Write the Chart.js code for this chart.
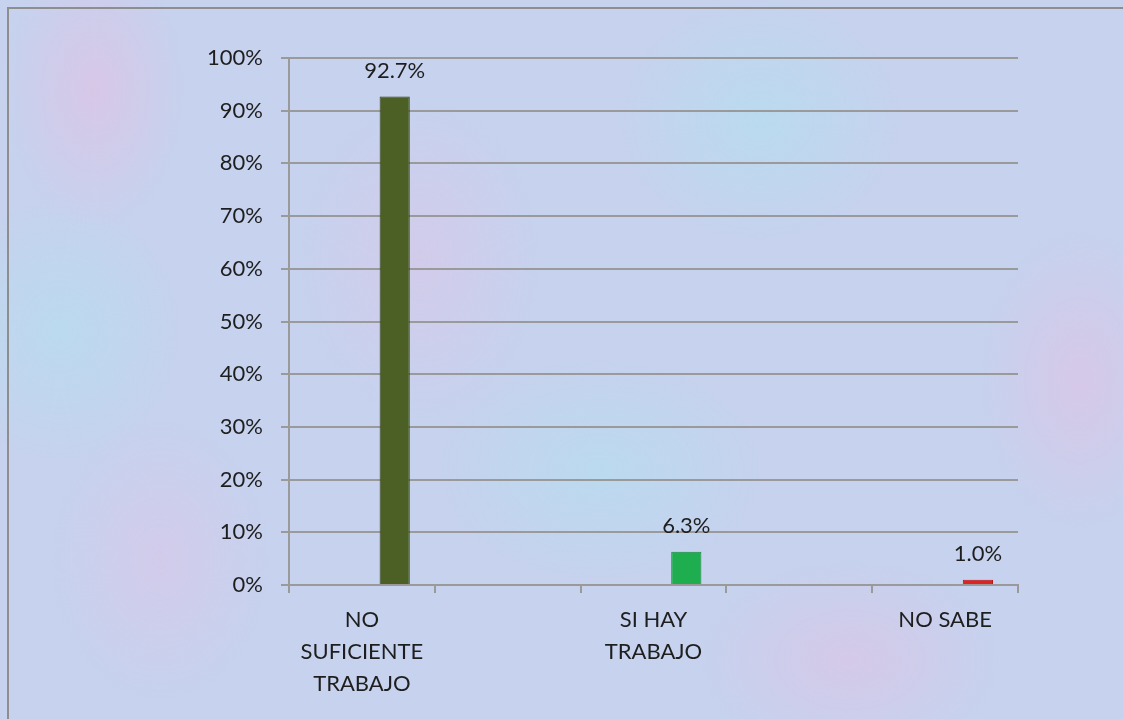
<!DOCTYPE html>
<html>
<head>
<meta charset="utf-8">
<script src="https://cdn.jsdelivr.net/npm/chart.js@4"></script>
<style>
  html, body { margin: 0; padding: 0; overflow: hidden; }
  body {
    width: 1123px; height: 719px;
    background-color: #c6d2ee;
    background-image:
      radial-gradient(ellipse 90px 140px at 95px 90px, rgba(230,190,225,0.55), transparent),
      radial-gradient(ellipse 120px 160px at 420px 260px, rgba(225,195,230,0.45), transparent),
      radial-gradient(ellipse 140px 120px at 760px 120px, rgba(175,225,240,0.55), transparent),
      radial-gradient(ellipse 100px 150px at 1080px 380px, rgba(230,190,225,0.5), transparent),
      radial-gradient(ellipse 160px 110px at 600px 470px, rgba(175,225,240,0.5), transparent),
      radial-gradient(ellipse 110px 140px at 160px 560px, rgba(225,195,230,0.45), transparent),
      radial-gradient(ellipse 150px 100px at 850px 660px, rgba(230,190,225,0.45), transparent),
      radial-gradient(ellipse 120px 130px at 60px 330px, rgba(175,225,240,0.5), transparent);
  }
  #frame {
    position: absolute; left: 7px; top: 7px; width: 1130px; height: 730px;
    border-left: 2px solid #8e8e8e; border-top: 2px solid #8e8e8e;
  }
  #wrap { position: absolute; left: 0; top: 0; width: 1123px; height: 719px; }
</style>
</head>
<body>
<div id="frame"></div>
<div id="wrap"><canvas id="chart"></canvas></div>
<script>
// categories (blank slots between them, as in the source sheet)
const categories = [['NO', 'SUFICIENTE', 'TRABAJO'], '', ['SI HAY', 'TRABAJO'], '', 'NO SABE'];
const percentValues = [92.7, null, 6.3, null, 1.0];
const emptySeries = [null, null, null, null, null];
const barColors = ['#4c6026', null, '#1fae4f', null, '#e02222'];
const barBorders = ['#33421a', null, '#178a3d', null, '#b51818'];
const yTicks = [0, 10, 20, 30, 40, 50, 60, 70, 80, 90, 100];

const fontFamily = 'Lato, "Open Sans", sans-serif';

// value labels above the bars
const valueLabels = {
    id: 'valueLabels',
    afterDatasetsDraw(chart) {
        const ctx = chart.ctx;
        const meta = chart.getDatasetMeta(1);
        ctx.save();
        ctx.font = '22px ' + fontFamily;
        ctx.fillStyle = '#1e1e1e';
        ctx.textAlign = 'center';
        ctx.textBaseline = 'middle';
        meta.data.forEach(function(bar, i) {
            const v = percentValues[i];
            if (v === null) return;
            ctx.fillText(v.toFixed(1) + '%', bar.x, bar.y - 26);
        });
        ctx.restore();
    }
};

const ctx = document.getElementById('chart').getContext('2d');
const chart = new Chart(ctx, {
    type: 'bar',
    data: {
        labels: categories,
        datasets: [
            { label: '', data: emptySeries },
            {
                label: 'Porcentaje',
                data: percentValues,
                backgroundColor: barColors,
                borderColor: barBorders,
                borderWidth: 1
            }
        ]
    },
    options: {
        responsive: true,
        maintainAspectRatio: false,
        animation: false,
        categoryPercentage: 0.9,
        barPercentage: 0.46,
        layout: { padding: { left: 0, top: 58, right: 105, bottom: 0 } },
        plugins: {
            legend: { display: false },
            tooltip: { enabled: false }
        },
        scales: {
            x: {
                afterFit(scale) { scale.height = 134; },
                grid: {
                    drawOnChartArea: false,
                    offset: true,
                    color: '#9a9a9a',
                    lineWidth: 2,
                    tickLength: 8
                },
                border: { color: '#9a9a9a', width: 2 },
                ticks: {
                    color: '#1e1e1e',
                    padding: 11,
                    maxRotation: 0,
                    autoSkip: false,
                    font: { family: fontFamily, size: 22, lineHeight: 1.45 }
                }
            },
            y: {
                min: 0,
                max: 100,
                afterFit(scale) { scale.width = 289; },
                afterBuildTicks(scale) { scale.ticks = yTicks.map(v => ({ value: v })); },
                grid: { color: '#9a9a9a', lineWidth: 2, tickLength: 8 },
                border: { color: '#9a9a9a', width: 2 },
                ticks: {
                    color: '#1e1e1e',
                    padding: 18,
                    font: { family: fontFamily, size: 22 },
                    callback: v => v + '%'
                }
            }
        }
    },
    plugins: [valueLabels]
});
</script>
</body>
</html>
